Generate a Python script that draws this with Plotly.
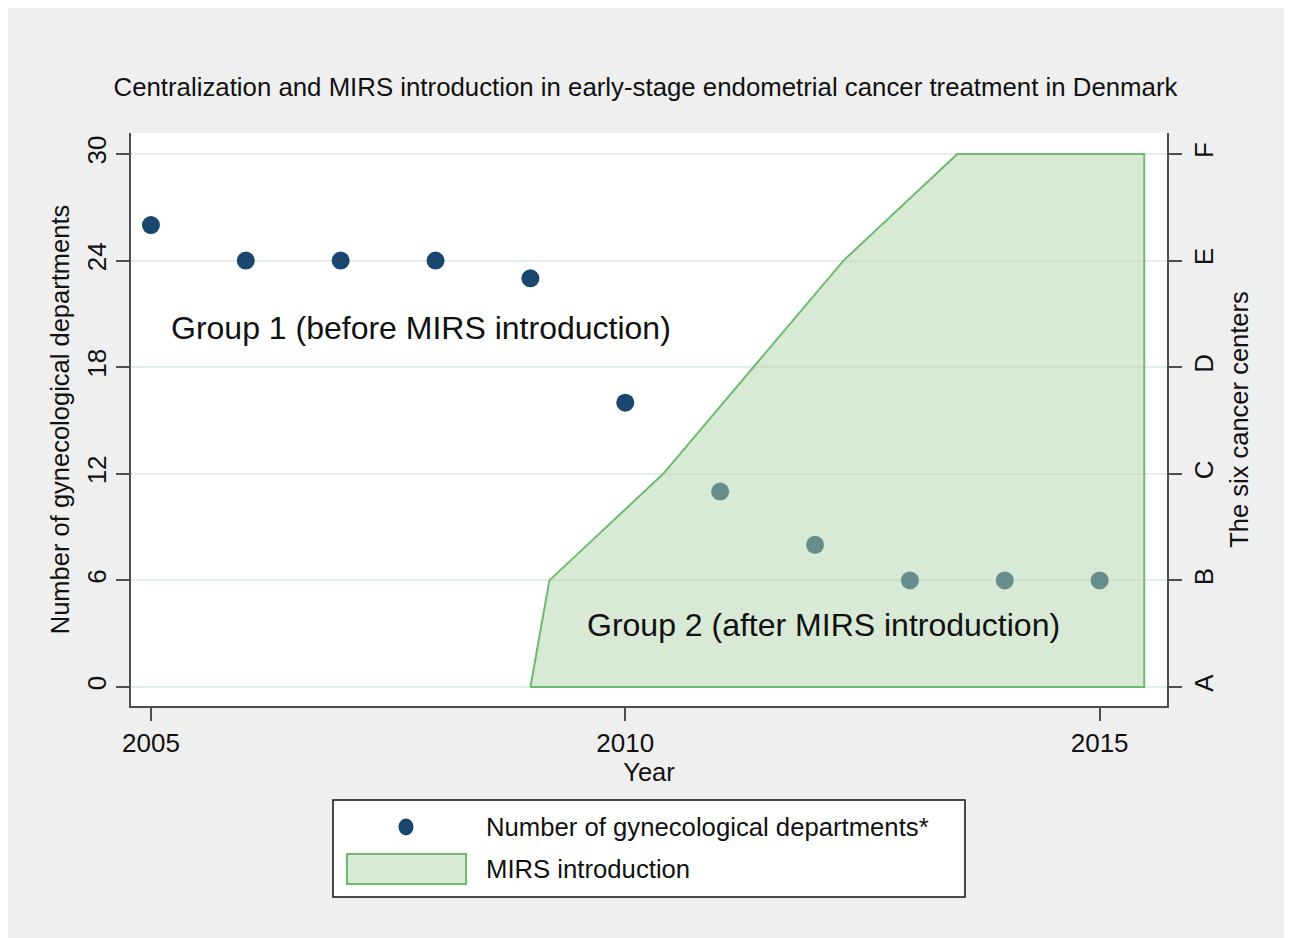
import plotly.graph_objects as go

# ---- data ----
years = [2005, 2006, 2007, 2008, 2009, 2010, 2011, 2012, 2013, 2014, 2015]
departments = [26, 24, 24, 24, 23, 16, 11, 8, 6, 6, 6]

# MIRS introduction polygon (year, center level)
mirs_x = [2009.0, 2009.2, 2010.4, 2012.3, 2013.5, 2015.47, 2015.47, 2009.0]
mirs_y = [0, 6, 12, 24, 30, 30, 0, 0]

left_ticks = [0, 6, 12, 18, 24, 30]
right_ticks = [0, 6, 12, 18, 24, 30]
right_labels = ["A", "B", "C", "D", "E", "F"]
x_ticks = [2005, 2010, 2015]

title_text = "Centralization and MIRS introduction in early-stage endometrial cancer treatment in Denmark"
group1_text = "Group 1 (before MIRS introduction)"
group2_text = "Group 2 (after MIRS introduction)"
legend_labels = ["Number of gynecological departments*", "MIRS introduction"]

# ---- layout helpers (reference pixel -> paper); page body adds an 8px offset ----
OFF = 8
W, H = 1292 - OFF, 938 - OFF
L, R, T, B = 131 - OFF, 1167 - OFF, 133 - OFF, 706 - OFF


def pxx(p):
    return (p - OFF - L) / (R - L)


def pxy(p):
    return (B - (p - OFF)) / (B - T)


FONT = "Liberation Sans, Arial, sans-serif"
NAVY = "#1a476f"
GREEN_FILL = "rgba(178,214,172,0.5)"
GREEN_LINE = "#6dbb6d"
AXIS = "#4d4d4d"
GRID = "#e4edf0"
TXT = "#111111"
TITLE_SIZE = 25.5

fig = go.Figure()
fig.add_trace(go.Scatter(
    x=years, y=departments, mode="markers",
    marker=dict(color=NAVY, size=18, line=dict(width=0)),
    name=legend_labels[0], showlegend=False,
))
fig.add_trace(go.Scatter(
    x=mirs_x, y=mirs_y, mode="lines", fill="toself",
    fillcolor=GREEN_FILL, line=dict(color=GREEN_LINE, width=2),
    name=legend_labels[1], showlegend=False,
))
# invisible trace to activate right axis
fig.add_trace(go.Scatter(x=[years[0]], y=[0], yaxis="y2", mode="markers",
                         marker=dict(opacity=0), showlegend=False, hoverinfo="skip"))

shapes = [
    # outer gray panel
    dict(type="rect", xref="paper", yref="paper", layer="below",
         x0=pxx(6), x1=pxx(1300), y0=pxy(946), y1=pxy(8),
         fillcolor="#efefef", line=dict(width=0)),
    # plot area
    dict(type="rect", xref="paper", yref="paper", layer="below",
         x0=0, x1=1, y0=0, y1=1, fillcolor="white", line=dict(width=0)),
    # legend box
    dict(type="rect", xref="paper", yref="paper", layer="below",
         x0=pxx(333), x1=pxx(965), y0=pxy(897), y1=pxy(800),
         fillcolor="white", line=dict(color="#111111", width=1.5)),
    # legend symbol: green rect
    dict(type="rect", xref="paper", yref="paper", layer="above",
         x0=pxx(347), x1=pxx(466), y0=pxy(884), y1=pxy(854),
         fillcolor=GREEN_FILL, line=dict(color=GREEN_LINE, width=2)),
    # legend symbol: dot
    dict(type="circle", xref="paper", yref="paper", layer="above",
         x0=pxx(398.5), x1=pxx(413.5), y0=pxy(835.5), y1=pxy(818.5),
         fillcolor=NAVY, line=dict(width=0)),
]

annotations = [
    dict(x=2007.85, y=20.2, xref="x", yref="y", text=group1_text, showarrow=False,
         font=dict(family=FONT, size=32, color=TXT)),
    dict(x=2012.09, y=3.5, xref="x", yref="y", text=group2_text, showarrow=False,
         font=dict(family=FONT, size=32, color=TXT)),
    dict(x=pxx(484), y=pxy(827), xref="paper", yref="paper", xanchor="left", yanchor="middle",
         text=legend_labels[0], showarrow=False, font=dict(family=FONT, size=25.7, color=TXT)),
    dict(x=pxx(484), y=pxy(869), xref="paper", yref="paper", xanchor="left", yanchor="middle",
         text=legend_labels[1], showarrow=False, font=dict(family=FONT, size=25.7, color=TXT)),
]

fig.update_layout(
    width=W, height=H,
    margin=dict(l=L, r=W - R, t=T, b=H - B, autoexpand=False),
    paper_bgcolor="white", plot_bgcolor="rgba(0,0,0,0)",
    font=dict(family=FONT, size=26, color=TXT),
    title=dict(text=title_text, x=(645.5 - OFF) / W, xref="container", xanchor="center",
               y=1 - (87 - OFF) / H, yref="container", yanchor="middle",
               font=dict(family=FONT, size=25.8, color=TXT)),
    showlegend=False,
    shapes=shapes, annotations=annotations,
    xaxis=dict(range=[2004.79, 2015.71], tickvals=x_ticks, ticks="outside", ticklen=13,
               tickwidth=2, tickcolor=AXIS, showline=True, linecolor=AXIS, linewidth=2,
               showgrid=False, zeroline=False,
               title=dict(text="Year", standoff=0, font=dict(size=TITLE_SIZE)),
               tickfont=dict(size=26)),
    yaxis=dict(range=[-1.07, 31.18], tickvals=left_ticks, ticks="outside", ticklen=13,
               tickwidth=2, tickcolor=AXIS, showline=True, linecolor=AXIS, linewidth=2,
               showgrid=True, gridcolor=GRID, gridwidth=2, zeroline=False,
               tickangle=-90, tickfont=dict(size=26),
               title=dict(text="Number of gynecological departments", standoff=5,
                          font=dict(size=TITLE_SIZE))),
    yaxis2=dict(range=[-1.07, 31.18], overlaying="y", side="right", tickvals=right_ticks,
                ticktext=right_labels, ticks="outside", ticklen=13, tickwidth=2,
                tickcolor=AXIS, showline=True, linecolor=AXIS, linewidth=2,
                showgrid=False, zeroline=False, tickangle=-90, tickfont=dict(size=26),
                title=dict(text="The six cancer centers", standoff=12, font=dict(size=TITLE_SIZE))),
)

fig.write_html("out.html")
